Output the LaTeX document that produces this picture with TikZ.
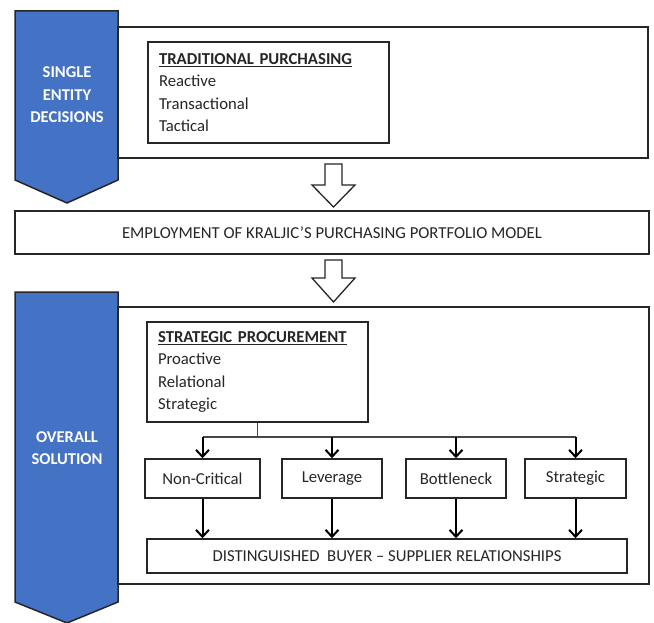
\documentclass[tikz,border=0pt]{standalone}
\usepackage{fontspec}
\setmainfont{Carlito}
\usetikzlibrary{arrows.meta}
\definecolor{chevblue}{HTML}{4472C4}
\definecolor{ink}{HTML}{262626}

\begin{document}
\begin{tikzpicture}[x=1pt, y=-1pt,
    frame/.style={draw=ink, line width=1.5pt, inner sep=0pt},
    box/.style={draw=ink, line width=1.5pt, fill=white, inner sep=0pt,
        font=\fontsize{16.7}{22.3}\selectfont, text=ink},
    listbox/.style={box, align=left, inner xsep=11pt},
    chevron/.style={draw=ink, line width=1.5pt, fill=chevblue},
    chevtext/.style={align=center, text=white,
        font=\fontsize{16.5}{22.5}\selectfont\bfseries},
    hollow/.style={draw=ink, line width=1.3pt, fill=white},
    branch/.style={draw=ink!85, line width=1.6pt},
    conn/.style={draw=black, line width=2pt,
        -{Straight Barb[length=7pt, width=13pt]}}]
    \useasboundingbox (0,0) rectangle (654,623);

    % blue side chevrons
    \draw[chevron] (15,11) -- (118,11) -- (118,180) -- (67,203) -- (15,180) -- cycle;
    \draw[chevron] (15,292) -- (118,292) -- (118,602) -- (67,623) -- (15,602) -- cycle;
    \node[chevtext] (single) at (67,95) {SINGLE\\ENTITY\\DECISIONS};
    \node[chevtext] (overall) at (67,448) {OVERALL\\SOLUTION};

    % top part
    \node[frame, minimum width=530, minimum height=131] (upper) at (383,92.5) {};
    \node[listbox, minimum width=241, minimum height=101, text width=219] (trad) at (268.5,92.5)
        {\underline{\textbf{TRADITIONAL PURCHASING}}\\Reactive\\Transactional\\Tactical};

    \draw[hollow] (325,164) -- (342,164) -- (342,185) -- (355,185) -- (333.5,207)
        -- (312,185) -- (325,185) -- cycle;

    \node[box, minimum width=634, minimum height=43] (kraljic) at (332,232.5)
        {EMPLOYMENT OF KRALJIC'S PURCHASING PORTFOLIO MODEL};

    \draw[hollow] (325,260) -- (342,260) -- (342,278) -- (355,278) -- (333.5,302)
        -- (312,278) -- (325,278) -- cycle;

    % lower part
    \node[frame, minimum width=531, minimum height=277] (lower) at (383.5,445.5) {};
    \node[listbox, minimum width=221, minimum height=100, text width=199] (proc) at (257.5,372)
        {\underline{\textbf{STRATEGIC PROCUREMENT}}\\Proactive\\Relational\\Strategic};

    \node[box, minimum width=115, minimum height=39] (noncrit) at (202.5,478.5) {Non-Critical};
    \node[box, minimum width=100, minimum height=39] (lever) at (332,478.5) {Leverage};
    \node[box, minimum width=100, minimum height=39] (bottle) at (456,478.5) {Bottleneck};
    \node[box, minimum width=101, minimum height=39] (strat) at (575.5,478.5) {Strategic};

    \node[box, minimum width=480, minimum height=34] (rel) at (387,556)
        {DISTINGUISHED\ \ BUYER -- SUPPLIER RELATIONSHIPS};

    \coordinate (split) at (proc.south |- 0,437);
    \draw[branch] (proc.south) -- (split);
    \draw[branch] (split -| noncrit.north) -- (split -| strat.north);
    \foreach \cat in {noncrit, lever, bottle, strat} {
        \draw[conn] (split -| \cat.north) -- (\cat.north);
        \draw[conn] (\cat.south) -- (\cat.south |- rel.north);
    }
\end{tikzpicture}
\end{document}
